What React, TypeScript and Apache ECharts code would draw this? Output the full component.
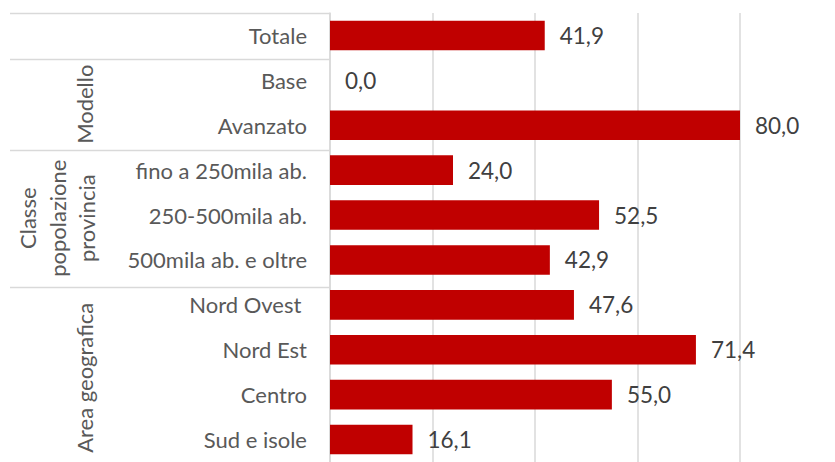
import React, { useEffect, useRef } from "react";
import * as echarts from "echarts";

const categories = [
  "Totale",
  "Base",
  "Avanzato",
  "fino a 250mila ab.",
  "250-500mila ab.",
  "500mila ab. e oltre",
  "Nord Ovest ",
  "Nord Est",
  "Centro",
  "Sud e isole",
];
const values = [41.9, 0.0, 80.0, 24.0, 52.5, 42.9, 47.6, 71.4, 55.0, 16.1];
const groups = [
  { label: "Modello", start: 1, end: 3, x: 84 },
  { label: "Classe\npopolazione\nprovincia", start: 3, end: 6, x: 57 },
  { label: "Area geografica", start: 6, end: 10, x: 84 },
];
const separators = [0, 1, 3, 6];

const FONT = "Lato, 'Open Sans', sans-serif";
const FS = 22;
const GRID_LEFT = 330;
const GRID_TOP = 13;
const BAND = 45.6;

export default function App() {
  const ref = useRef<HTMLDivElement>(null);
  useEffect(() => {
    document.body.style.margin = "0";
    const chart = echarts.init(ref.current!, undefined, { renderer: "svg" });
    const graphics: any[] = [];
    separators.forEach((k) => {
      const y = Math.round(GRID_TOP + BAND * k) + 0.5;
      graphics.push({
        type: "line",
        shape: { x1: 10, y1: y, x2: GRID_LEFT, y2: y },
        style: { stroke: "#d9d9d9", lineWidth: 1.5 },
        silent: true,
      });
    });
    groups.forEach((g) => {
      const yc = GRID_TOP + (BAND * (g.start + g.end)) / 2;
      graphics.push({
        type: "text",
        x: g.x,
        y: Math.min(yc, 378),
        rotation: Math.PI / 2,
        style: {
          text: g.label,
          align: "center",
          verticalAlign: "middle",
          fontSize: FS,
          fontFamily: FONT,
          fill: "#595959",
          lineHeight: 29.5,
        },
        silent: true,
      });
    });
    chart.setOption({
      animation: false,
      grid: { left: GRID_LEFT, top: GRID_TOP, width: 410, height: BAND * 10 },
      xAxis: {
        type: "value",
        min: 0,
        max: 80,
        interval: 20,
        axisLabel: { show: false },
        axisLine: { show: false },
        axisTick: { show: false },
        splitLine: { show: true, lineStyle: { color: "#d9d9d9", width: 1.5 } },
      },
      yAxis: {
        type: "category",
        inverse: true,
        data: categories,
        axisLine: { show: true, lineStyle: { color: "#d9d9d9", width: 1.5 } },
        axisTick: { show: false },
        axisLabel: {
          margin: 23,
          fontSize: FS,
          fontFamily: FONT,
          color: "#595959",
        },
      },
      series: [
        {
          type: "bar",
          data: values,
          barCategoryGap: "34%",
          itemStyle: { color: "#C00000" },
          label: {
            show: true,
            position: "right",
            distance: 15,
            fontSize: 22.5,
            fontFamily: FONT,
            color: "#404040",
            formatter: (p: any) => p.value.toFixed(1).replace(".", ","),
          },
        },
      ],
      graphic: graphics,
    });
    return () => chart.dispose();
  }, []);
  return <div ref={ref} style={{ width: 835, height: 462 }} />;
}
